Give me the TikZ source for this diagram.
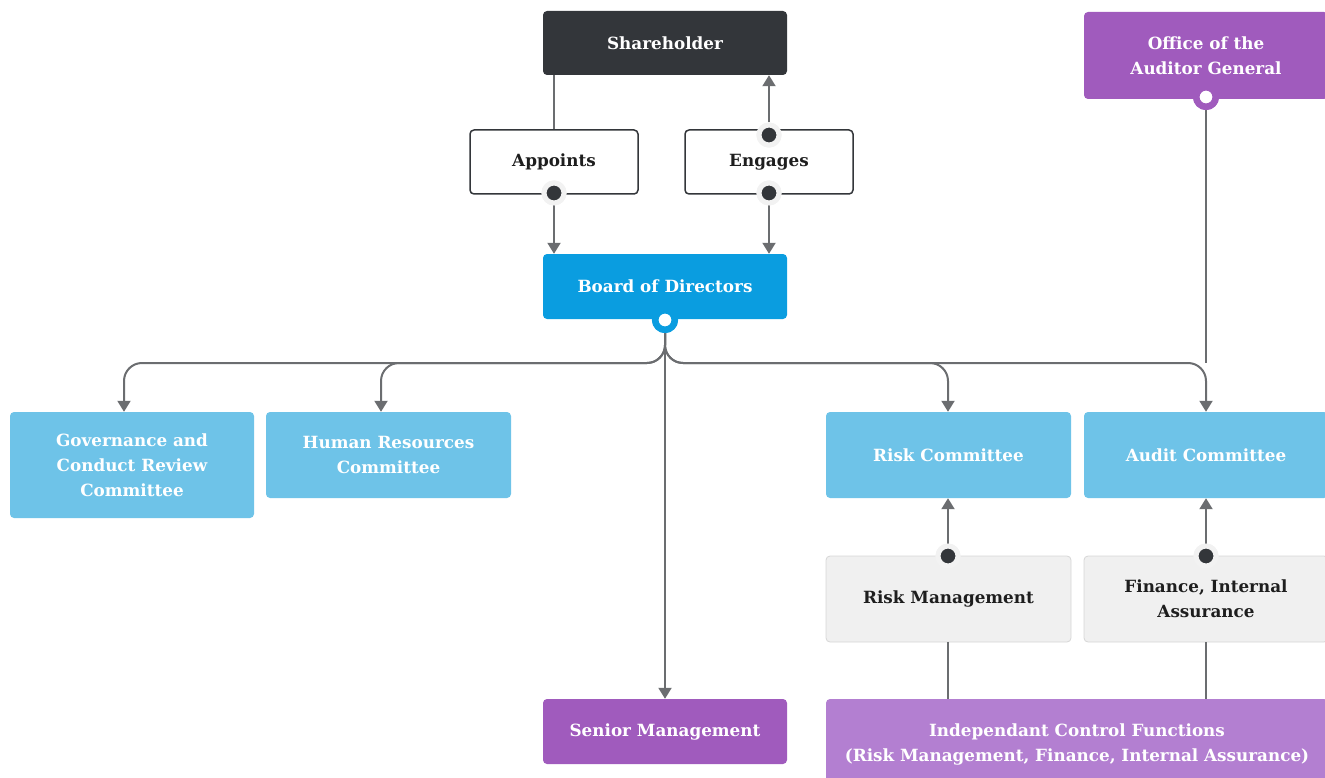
\documentclass[tikz,border=0pt]{standalone}
\usepackage{fontspec}
\setmainfont{DejaVu Serif}
\usetikzlibrary{arrows.meta}
\definecolor{dark}{HTML}{33363A}
\definecolor{bblue}{HTML}{0A9DE0}
\definecolor{lblue}{HTML}{6EC3E8}
\definecolor{purp}{HTML}{A05BBD}
\definecolor{lpurp}{HTML}{B37FD1}
\definecolor{lgray}{HTML}{F0F0F0}
\definecolor{halo}{HTML}{F2F2F2}
\definecolor{edgegray}{HTML}{D6D6D6}
\definecolor{linec}{HTML}{6B6D70}
\definecolor{txt}{HTML}{1E1E1E}
\begin{document}
\begin{tikzpicture}[x=1pt,y=-1pt,
  box/.style={rectangle, rounded corners=4pt, align=center, inner sep=0pt,
    font=\fontsize{16.8}{25}\selectfont\bfseries},
  darkbox/.style={box, fill=dark, text=white},
  outlinebox/.style={box, fill=white, draw=dark, line width=1.5pt, text=txt},
  bluebox/.style={box, fill=bblue, text=white},
  lightbox/.style={box, fill=lblue, text=white},
  purpbox/.style={box, fill=purp, text=white},
  lpurpbox/.style={box, fill=lpurp, text=white},
  graybox/.style={box, fill=lgray, draw=edgegray, line width=0.8pt, text=txt},
  darkdot/.style={circle, fill=dark, draw=halo, line width=5pt, minimum size=20pt, inner sep=0pt},
  ringdot/.style={circle, fill=white, line width=6.5pt, minimum size=19.5pt, inner sep=0pt},
  conn/.style={draw=linec, line width=2pt},
  arr/.style={-{Triangle[width=13pt,length=11pt]}}
]
\useasboundingbox (0,0) rectangle (1325,778);

% boxes
\node[darkbox, minimum width=244, minimum height=64] (sh) at (665,43) {Shareholder};
\node[outlinebox, minimum width=168, minimum height=64] (ap) at (554,162) {Appoints};
\node[outlinebox, minimum width=168, minimum height=64] (en) at (769,162) {Engages};
\node[bluebox, minimum width=244, minimum height=65] (bo) at (665,286.5) {Board of Directors};
\node[purpbox, minimum width=244, minimum height=87] (oag) at (1206,55.5) {Office of the\\Auditor General};
\node[lightbox, minimum width=244, minimum height=106] (gov) at (132,465) {Governance and\\Conduct Review\\Committee};
\node[lightbox, minimum width=245, minimum height=86] (hr) at (388.5,455) {Human Resources\\Committee};
\node[lightbox, minimum width=245, minimum height=86] (rc) at (948.5,455) {Risk Committee};
\node[lightbox, minimum width=244, minimum height=86] (ac) at (1206,455) {Audit Committee};
\node[graybox, minimum width=245, minimum height=86] (rm) at (948.5,599) {Risk Management};
\node[graybox, minimum width=244, minimum height=86] (fi) at (1206,599) {Finance, Internal\\Assurance};
\node[purpbox, minimum width=244, minimum height=65] (sm) at (665,731.5) {Senior Management};
\node[lpurpbox, minimum width=502, minimum height=91] (icf) at (1077,744.5) {Independant Control Functions\\(Risk Management, Finance, Internal Assurance)};

% dots
\node[darkdot] (apd) at (554,193) {};
\node[darkdot] (ebd) at (769,193) {};
\node[darkdot] (etd) at (769,135) {};
\node[darkdot] (rmd) at (948,556) {};
\node[darkdot] (fid) at (1206,556) {};
\node[ringdot, draw=bblue] (bd) at (665,320) {};
\node[ringdot, draw=purp] (oagd) at (1206,97) {};

% target coordinates
\coordinate (hub) at (665,363);
\coordinate (gova) at ([xshift=-8pt]gov.north);
\coordinate (hra) at ([xshift=-7.5pt]hr.north);
\coordinate (rca) at ([xshift=-0.5pt]rc.north);
\coordinate (aca) at (ac.north);

% top connectors
\draw[conn] (sh.south -| ap) -- (ap.north);
\draw[conn, arr] (apd) -- (apd |- bo.north);
\draw[conn, arr] (ebd) -- (ebd |- bo.north);
\draw[conn, arr] (etd) -- (etd |- sh.south);

% board branches
\draw[conn, arr, rounded corners=18pt] (bd) -- (hub) -- (hub -| gova) -- (gova);
\draw[conn, arr, rounded corners=18pt] (bd) -- (hub) -- (hub -| hra) -- (hra);
\draw[conn, arr, rounded corners=18pt] (bd) -- (hub) -- (hub -| rca) -- (rca);
\draw[conn, arr, rounded corners=18pt] (bd) -- (hub) -- (hub -| aca) -- (aca);
\draw[conn, arr] (bd) -- (sm.north);
\draw[conn] (oagd) -- (hub -| aca);

% lower connectors
\draw[conn, arr] (rmd) -- (rmd |- rc.south);
\draw[conn, arr] (fid) -- (fid |- ac.south);
\draw[conn] (rmd |- rm.south) -- (rmd |- icf.north);
\draw[conn] (fid |- fi.south) -- (fid |- icf.north);

% redraw dots on top
\node[darkdot] at (apd) {};
\node[darkdot] at (ebd) {};
\node[darkdot] at (etd) {};
\node[darkdot] at (rmd) {};
\node[darkdot] at (fid) {};
\node[ringdot, draw=bblue] at (bd) {};
\node[ringdot, draw=purp] at (oagd) {};
\end{tikzpicture}
\end{document}
